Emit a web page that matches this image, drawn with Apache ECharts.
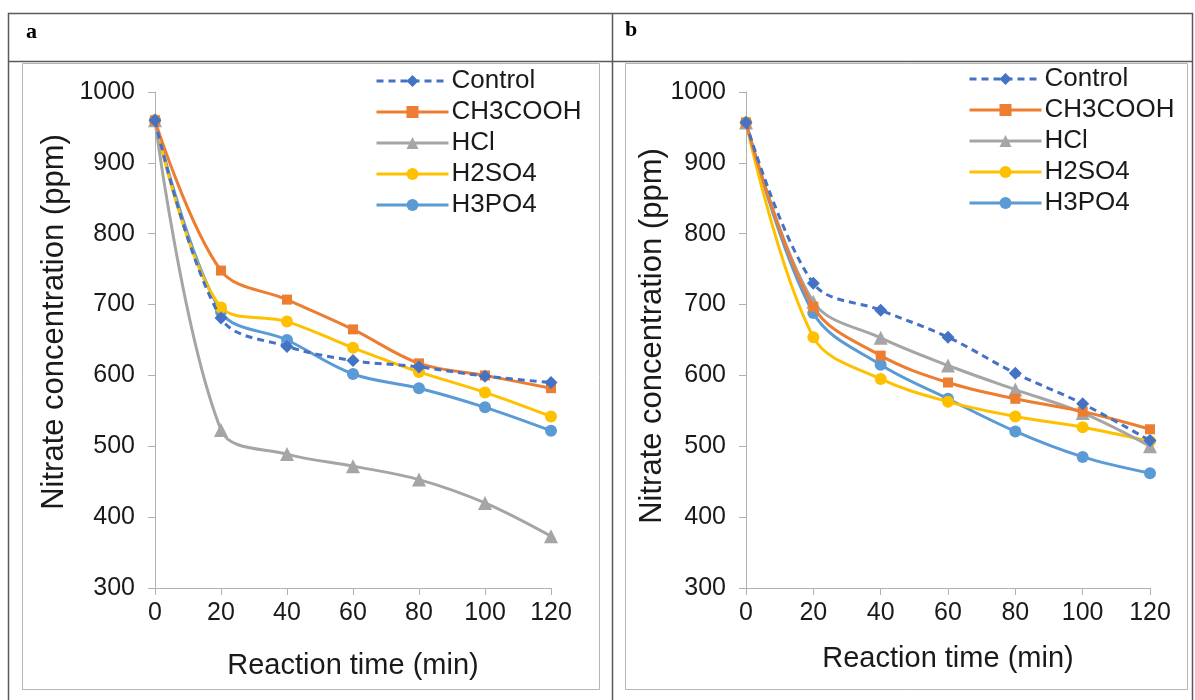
<!DOCTYPE html>
<html>
<head>
<meta charset="utf-8">
<script src="https://cdn.jsdelivr.net/npm/echarts@6/dist/echarts.min.js"></script>
<style>
html,body{margin:0;padding:0;background:#fff;}
#c{width:1195px;height:700px;}
</style>
</head>
<body>
<div id="c"></div>
<script>
// ---- data ----
const times = [0, 20, 40, 60, 80, 100, 120];
const seriesNames = ['Control', 'CH3COOH', 'HCl', 'H2SO4', 'H3PO4'];
// panel a
const aControl = [960, 681, 641, 621, 612, 599, 590];
const aCH3COOH = [960, 748, 707, 665, 617, 600, 582];
const aHCl     = [960, 523, 489, 472, 453, 420, 373];
const aH2SO4   = [960, 696, 676, 639, 605, 576, 542];
const aH3PO4   = [960, 690, 650, 602, 582, 555, 522];
// panel b
const bControl = [957, 730, 692, 654, 603, 560, 508];
const bCH3COOH = [957, 697, 628, 590, 567, 549, 524];
const bHCl     = [957, 704, 653, 614, 580, 547, 500];
const bH2SO4   = [957, 654, 595, 563, 542, 527, 507];
const bH3PO4   = [957, 688, 615, 567, 521, 485, 462];
const yTicks = [300, 400, 500, 600, 700, 800, 900, 1000];
const xTicks = [0, 20, 40, 60, 80, 100, 120];
const panelLabels = ['a', 'b'];
const xTitle = 'Reaction time (min)';
const yTitle = 'Nitrate concentration (ppm)';

const colors = ['#4472C4', '#ED7D31', '#A5A5A5', '#FFC000', '#5B9BD5'];
const symbols = ['diamond', 'rect', 'triangle', 'circle', 'circle'];
const symSizes = [13, 10, 14, 12, 12];

const chart = echarts.init(document.getElementById('c'), null, {renderer: 'canvas'});

const FONT = '"Liberation Sans", Arial, sans-serif';

function pairs(vals) { return times.map((t, i) => [t, vals[i]]); }

const panels = [
  [aControl, aCH3COOH, aHCl, aH2SO4, aH3PO4],
  [bControl, bCH3COOH, bHCl, bH2SO4, bH3PO4]
];

const grids = [
  {left: 155, top: 92, width: 396, height: 496},
  {left: 746, top: 92, width: 404, height: 496}
];

const axisLineColor = '#b0b0b0';

const xAxes = grids.map((g, i) => ({
  type: 'value', gridIndex: i, min: 0, max: 120, interval: 20,
  name: xTitle, nameLocation: 'middle', nameGap: i === 0 ? 63 : 56,
  nameTextStyle: {fontFamily: FONT, fontSize: 29, color: '#1a1a1a'},
  axisLine: {show: true, lineStyle: {color: axisLineColor, width: 1}},
  axisTick: {show: true, length: 7, lineStyle: {color: axisLineColor}},
  axisLabel: {fontFamily: FONT, fontSize: 25, color: '#1a1a1a', margin: 13,
    formatter: v => xTicks.includes(v) ? String(v) : ''},
  splitLine: {show: false}
}));

const yAxes = grids.map((g, i) => ({
  type: 'value', gridIndex: i, min: 300, max: 1000, interval: 100,
  axisLine: {show: true, lineStyle: {color: axisLineColor, width: 1}},
  axisTick: {show: true, length: 7, inside: false, lineStyle: {color: axisLineColor}},
  axisLabel: {fontFamily: FONT, fontSize: 25, color: '#1a1a1a', margin: 20,
    formatter: v => yTicks.includes(v) ? String(v) : ''},
  splitLine: {show: false}
}));

const series = [];
panels.forEach((vals, p) => {
  vals.forEach((arr, k) => {
    series.push({
      name: seriesNames[k], type: 'line', xAxisIndex: p, yAxisIndex: p,
      data: pairs(arr), smooth: 0.35,
      symbol: symbols[k], symbolSize: symSizes[k], showSymbol: true,
      itemStyle: {color: colors[k]},
      lineStyle: {color: colors[k], width: 3, type: k === 0 ? [7, 5] : 'solid'},
      z: 10 - k, animation: false
    });
  });
});

const legendBase = {
  orient: 'vertical', itemWidth: 72, itemHeight: 15, itemGap: 5,
  data: seriesNames,
  lineStyle: {width: 3},
  textStyle: {fontFamily: FONT, fontSize: 26, color: '#1a1a1a', lineHeight: 26, padding: [0, 0, 0, -2]},
  selectedMode: false
};

const titleFont = '31px "Liberation Sans", Arial, sans-serif';

const graphics = [
  // outer table
  {type: 'rect', shape: {x: 8.5, y: 13.5, width: 1184, height: 700}, style: {fill: null, stroke: '#5a5a5a', lineWidth: 1.5}, silent: true, z: 0},
  {type: 'line', shape: {x1: 8, y1: 61.5, x2: 1193, y2: 61.5}, style: {stroke: '#5a5a5a', lineWidth: 1.5}, silent: true},
  {type: 'line', shape: {x1: 612.5, y1: 13, x2: 612.5, y2: 700}, style: {stroke: '#5a5a5a', lineWidth: 1.5}, silent: true},
  // inner chart boxes
  {type: 'rect', shape: {x: 22.5, y: 63.5, width: 577, height: 626}, style: {fill: null, stroke: '#b5b5b5', lineWidth: 1}, silent: true},
  {type: 'rect', shape: {x: 625.5, y: 63.5, width: 562, height: 626}, style: {fill: null, stroke: '#b5b5b5', lineWidth: 1}, silent: true},
  // panel labels
  {type: 'text', left: 26, top: 21, style: {text: panelLabels[0], font: 'bold 22px "Liberation Serif", "Times New Roman", serif', fill: '#000'}},
  {type: 'text', left: 625, top: 19, style: {text: panelLabels[1], font: 'bold 22px "Liberation Serif", "Times New Roman", serif', fill: '#000'}},
  // y-axis titles
  {type: 'text', x: 54, y: 322, rotation: Math.PI / 2, silent: true,
    style: {text: yTitle, font: titleFont, fill: '#1a1a1a', align: 'center', verticalAlign: 'middle'}},
  {type: 'text', x: 652, y: 336, rotation: Math.PI / 2, silent: true,
    style: {text: yTitle, font: titleFont, fill: '#1a1a1a', align: 'center', verticalAlign: 'middle'}}
];

chart.setOption({
  animation: false,
  backgroundColor: '#fff',
  grid: grids.map(g => Object.assign({containLabel: false}, g)),
  xAxis: xAxes,
  yAxis: yAxes,
  legend: [
    Object.assign({}, legendBase, {left: 370, top: 63}),
    Object.assign({}, legendBase, {left: 963, top: 61})
  ],
  graphic: graphics,
  series: series
});
</script>
</body>
</html>
